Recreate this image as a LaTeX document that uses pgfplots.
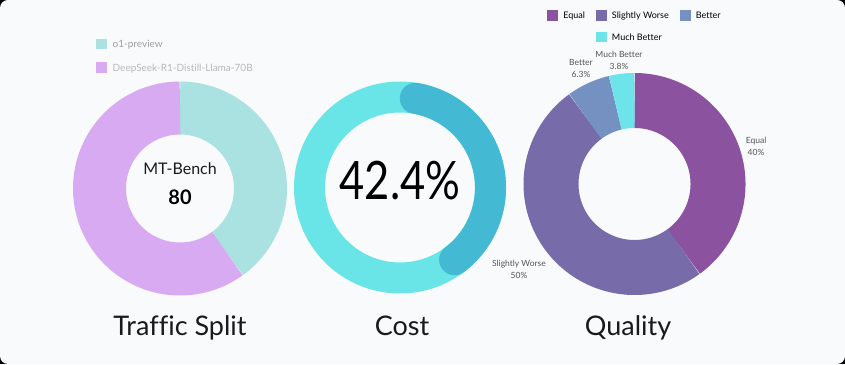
\documentclass[border=0pt]{standalone}
\usepackage{pgfplots}
\pgfplotsset{compat=1.18}
\usepackage{fontspec}
\setmainfont{Lato}[Ligatures=NoCommon]
\definecolor{bgc}{HTML}{F9FAFC}
\definecolor{tealA}{HTML}{A9E2E1}
\definecolor{lilac}{HTML}{D8AAF2}
\definecolor{costlight}{HTML}{6AE5E7}
\definecolor{costdark}{HTML}{43B9D4}
\definecolor{eqc}{HTML}{8B52A0}
\definecolor{swc}{HTML}{786BAA}
\definecolor{btc}{HTML}{7591C1}
\definecolor{mbc}{HTML}{6DE4E9}
\definecolor{titlec}{HTML}{1A1A1A}
\definecolor{lblc}{HTML}{555555}
\pgfplotsset{canvas/.style={at={(0pt,0pt)}, anchor=south west, scale only axis,
  width=845pt, height=364pt, xmin=0, xmax=845, ymin=0, ymax=364,
  hide axis, clip=false,
  legend image code/.code={\fill[##1,draw=none] (0pt,-4.5pt) rectangle (11pt,6pt);}}}
\begin{document}
\begin{tikzpicture}[x=1pt,y=1pt]
\fill[black] (0,0) rectangle (845,364);
\fill[bgc, rounded corners=8pt] (0,0) rectangle (845,364);
% ---------- Traffic Split ----------
\begin{axis}[canvas,
  legend style={draw=none, fill=none, at={(0.1136,0.8956)}, anchor=north west,
    inner sep=0pt, row sep=11pt, font=\fontsize{10}{12}\selectfont,
    /tikz/every odd column/.append style={column sep=3.5pt}},
  legend cell align=left]
\addplot[domain=0:40, samples=120, line width=53pt, color=tealA, no markers]
  ({180+80.5*cos(90-3.6*x)}, {175.5+80.5*sin(90-3.6*x)});
\addlegendentry[text=black!38]{o1-preview}
\addplot[domain=40:100, samples=160, line width=53pt, color=lilac, no markers]
  ({180+80.5*cos(90-3.6*x)}, {175.5+80.5*sin(90-3.6*x)});
\addlegendentry[text=black!28]{DeepSeek-R1-Distill-Llama-70B}
\node[font=\fontsize{16}{18}\selectfont, text=titlec, anchor=base] at (axis cs:180,189) {MT-Bench};
\node[font=\fontsize{20}{22}\selectfont\bfseries, text=black, anchor=base] at (axis cs:180,159) {80};
\node[font=\fontsize{27}{30}\selectfont, text=titlec, anchor=base] at (axis cs:180,29) {Traffic Split};
\end{axis}
% ---------- Cost ----------
\begin{axis}[canvas]
\addplot[domain=0:100, samples=240, line width=31pt, color=costlight, no markers]
  ({400+90.5*cos(90-3.6*x)}, {176.5+90.5*sin(90-3.6*x)});
\addplot[domain=2.7:39.7, samples=120, line width=31pt, color=costdark, line cap=round, no markers]
  ({400+90.5*cos(90-3.6*x)}, {176.5+90.5*sin(90-3.6*x)});
\node[font=\fontsize{53}{56}\selectfont, text=black, anchor=base] at (axis cs:400,164) {\scalebox{0.82}[1]{42.4\%}};
\node[font=\fontsize{27}{30}\selectfont, text=titlec, anchor=base] at (axis cs:402,29) {Cost};
\end{axis}
% ---------- Quality ----------
\begin{axis}[canvas,
  legend style={draw=none, fill=none, at={(0.7515,0.9725)}, anchor=north,
    inner sep=0pt, row sep=9.5pt, font=\fontsize{9}{11}\selectfont,
    /tikz/every odd column/.append style={column sep=3pt},
    /tikz/every even column/.append style={column sep=9pt}},
  legend columns=3, legend cell align=left]
\addplot[domain=0:40, samples=120, line width=55pt, color=eqc, no markers]
  ({634.5+83.5*cos(90-3.6*x)}, {180+83.5*sin(90-3.6*x)});
\addlegendentry{Equal}
\addplot[domain=40:90, samples=140, line width=55pt, color=swc, no markers]
  ({634.5+83.5*cos(90-3.6*x)}, {180+83.5*sin(90-3.6*x)});
\addlegendentry{Slightly Worse}
\addplot[domain=90:96.3, samples=30, line width=55pt, color=btc, no markers]
  ({634.5+83.5*cos(90-3.6*x)}, {180+83.5*sin(90-3.6*x)});
\addlegendentry{Better}
\addlegendimage{empty legend}
\addlegendentry{}
\addplot[domain=96.3:100, samples=20, line width=55pt, color=mbc, no markers]
  ({634.5+83.5*cos(90-3.6*x)}, {180+83.5*sin(90-3.6*x)});
\addlegendentry{Much Better}
\begin{scope}[every node/.style={font=\fontsize{8.5}{12}\selectfont, text=lblc, align=center}]
\node at (axis cs:756,218) {Equal\\40\%};
\node at (axis cs:519,95) {Slightly Worse\\50\%};
\node at (axis cs:581,296) {Better\\6.3\%};
\node at (axis cs:619,304) {Much Better\\3.8\%};
\end{scope}
\node[font=\fontsize{27}{30}\selectfont, text=titlec, anchor=base] at (axis cs:628,29) {Quality};
\end{axis}
\end{tikzpicture}
\end{document}
